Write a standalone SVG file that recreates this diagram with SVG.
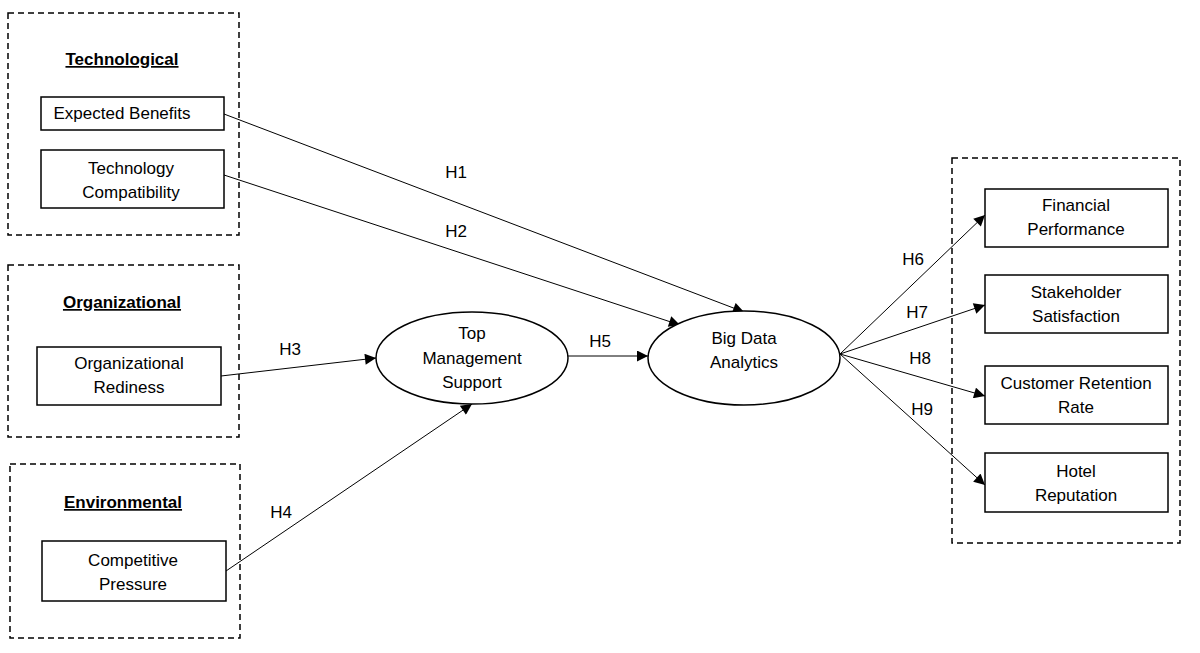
<svg xmlns="http://www.w3.org/2000/svg" width="1200" height="653" viewBox="0 0 1200 653">
<style>
text{font-family:"Liberation Sans",Arial,sans-serif;font-size:17px;fill:#000;text-anchor:middle}
.grp{fill:none;stroke:#000;stroke-width:1.5;stroke-dasharray:6,4}
.box{fill:#fff;stroke:#000;stroke-width:1.5}
.ttl{font-weight:bold;text-decoration:underline}
.con{stroke:#000;stroke-width:1;fill:none;marker-end:url(#ah)}
</style>
<defs>
<marker id="ah" viewBox="0 0 10 10" refX="10" refY="5" markerWidth="13" markerHeight="11" markerUnits="userSpaceOnUse" orient="auto">
<path d="M0,0 L10,5 L0,10 z" fill="#000"/>
</marker>
</defs>
<g id="group-tech"><rect class="grp" x="8" y="13" width="231" height="222"/><text class="ttl" x="122" y="65">Technological</text></g>
<g id="group-org"><rect class="grp" x="8" y="265" width="231" height="172"/><text class="ttl" x="122" y="308">Organizational</text></g>
<g id="group-env"><rect class="grp" x="10" y="464" width="230" height="174"/><text class="ttl" x="123" y="508">Environmental</text></g>
<g id="group-out"><rect class="grp" x="952" y="158" width="228" height="385"/></g>
<g id="connectors">
<line class="con" x1="224" y1="114" x2="744" y2="312"/>
<line class="con" x1="224" y1="175" x2="680" y2="325"/>
<line class="con" x1="221" y1="376" x2="376" y2="358"/>
<line class="con" x1="226" y1="571" x2="472" y2="404"/>
<line class="con" x1="568" y1="356" x2="648" y2="356"/>
<line class="con" x1="840" y1="354" x2="985" y2="215"/>
<line class="con" x1="840" y1="354" x2="985" y2="305"/>
<line class="con" x1="840" y1="354" x2="985" y2="396"/>
<line class="con" x1="840" y1="354" x2="985" y2="485"/>
<text x="456" y="178">H1</text>
<text x="456" y="237">H2</text>
<text x="290" y="355">H3</text>
<text x="281" y="518">H4</text>
<text x="600" y="347">H5</text>
<text x="913" y="265">H6</text>
<text x="917" y="318">H7</text>
<text x="920" y="364">H8</text>
<text x="922" y="415">H9</text>
</g>
<g id="n-eb"><rect class="box" x="41" y="97" width="183" height="33"/><text x="122" y="119">Expected Benefits</text></g>
<g id="n-tc"><rect class="box" x="41" y="150" width="183" height="58"/><text x="131" y="174">Technology</text><text x="131" y="198">Compatibility</text></g>
<g id="n-or"><rect class="box" x="37" y="347" width="184" height="58"/><text x="129" y="369">Organizational</text><text x="129" y="393">Rediness</text></g>
<g id="n-cp"><rect class="box" x="42" y="541" width="184" height="60"/><text x="133" y="566">Competitive</text><text x="133" y="590">Pressure</text></g>
<g id="n-tms"><ellipse class="box" cx="472" cy="358" rx="96" ry="46"/><text x="472" y="339">Top</text><text x="472" y="364">Management</text><text x="472" y="388">Support</text></g>
<g id="n-bda"><ellipse class="box" cx="744" cy="358" rx="96" ry="47"/><text x="744" y="344">Big Data</text><text x="744" y="368">Analytics</text></g>
<g id="n-fp"><rect class="box" x="985" y="189" width="183" height="58"/><text x="1076" y="211">Financial</text><text x="1076" y="235">Performance</text></g>
<g id="n-ss"><rect class="box" x="985" y="275" width="183" height="58"/><text x="1076" y="298">Stakeholder</text><text x="1076" y="322">Satisfaction</text></g>
<g id="n-crr"><rect class="box" x="985" y="366" width="183" height="58"/><text x="1076" y="389">Customer Retention</text><text x="1076" y="413">Rate</text></g>
<g id="n-hr"><rect class="box" x="985" y="453" width="183" height="59"/><text x="1076" y="477">Hotel</text><text x="1076" y="501">Reputation</text></g>
</svg>
